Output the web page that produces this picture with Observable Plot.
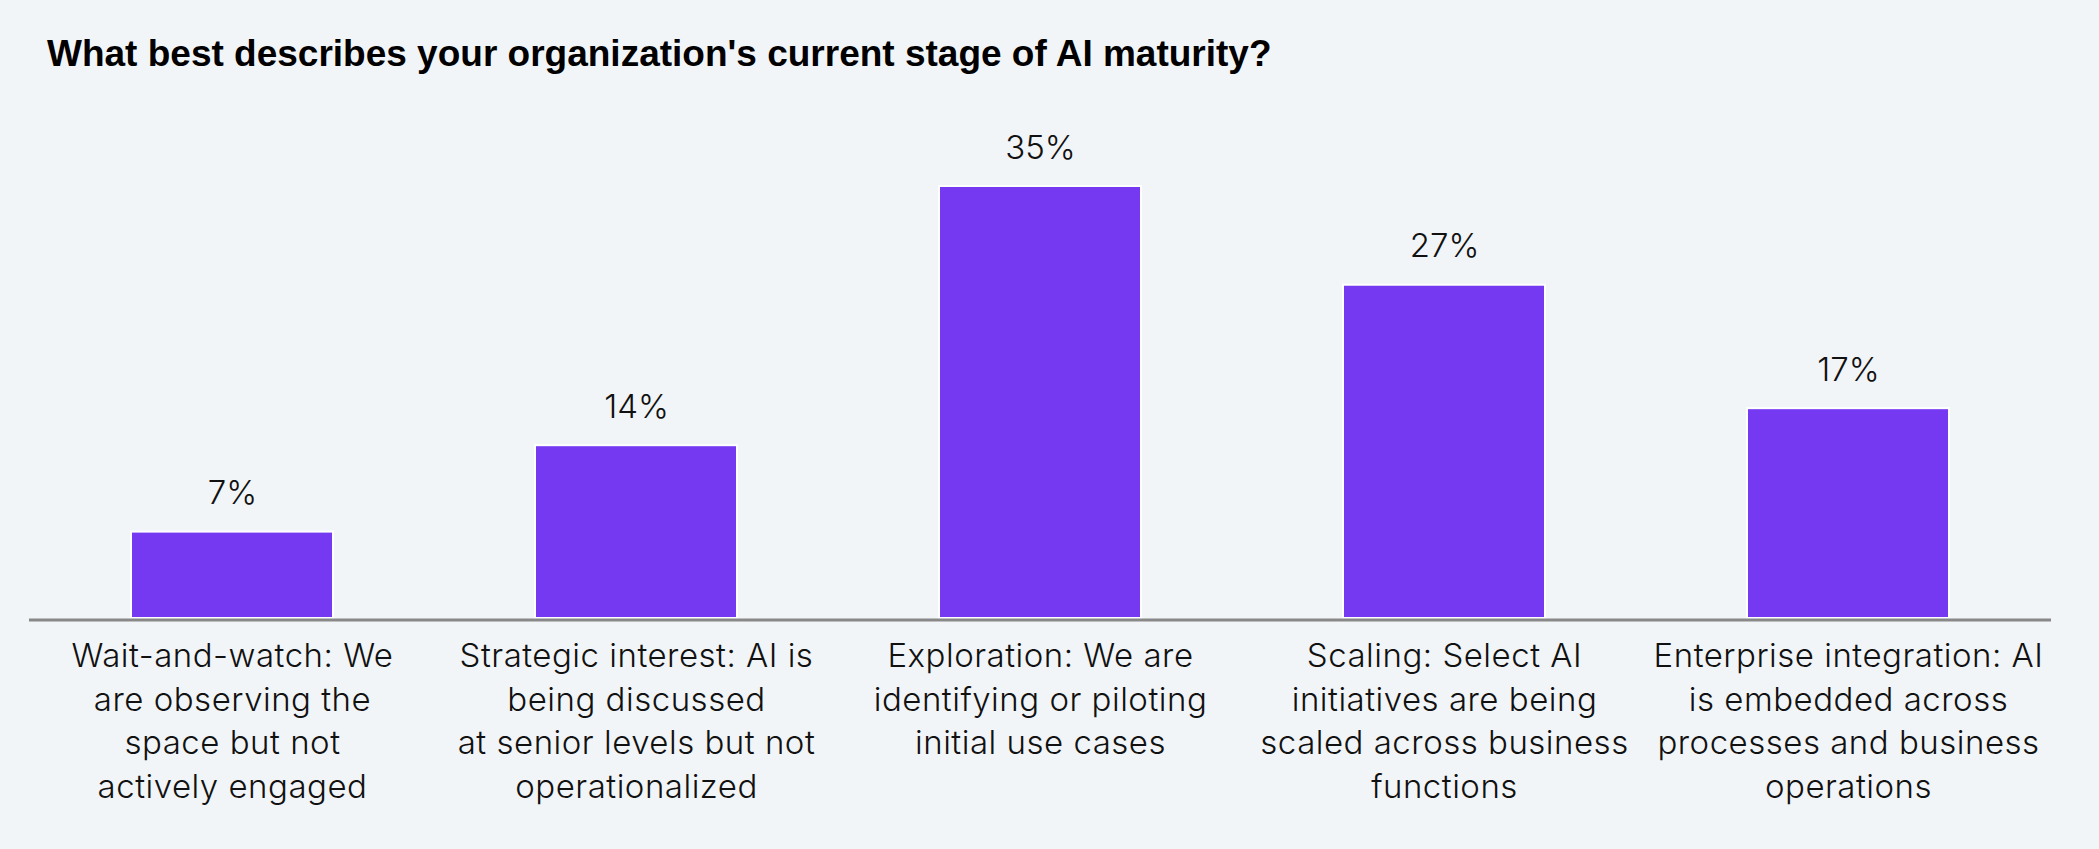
<!DOCTYPE html>
<html>
<head>
<meta charset="utf-8">
<script src="https://cdn.jsdelivr.net/npm/d3@7"></script>
<script src="https://cdn.jsdelivr.net/npm/@observablehq/plot@0.6"></script>
<style>
  html, body { margin: 0; padding: 0; background: #f2f5f8; }
  #wrap { width: 2099px; height: 849px; position: relative; overflow: hidden; background: #f2f5f8; }
  #title { position: absolute; left: 47px; top: 35px; font-family: "Liberation Sans", Arial, sans-serif; font-weight: bold; font-size: 37px; line-height: 37px; color: #000; white-space: nowrap; }
  #chart { position: absolute; left: 0; top: 90px; }
  #chart g[aria-label="x-axis tick label"] text { letter-spacing: 0.5px; }
</style>
</head>
<body>
<div id="wrap">
  <div id="title">What best describes your organization's current stage of AI maturity?</div>
  <div id="chart"></div>
</div>
<script>
const categories = [
  "Wait-and-watch",
  "Strategic interest",
  "Exploration",
  "Scaling",
  "Enterprise integration"
];
const tickLabels = [
  "Wait-and-watch: We\nare observing the\nspace but not\nactively engaged",
  "Strategic interest: AI is\nbeing discussed\nat senior levels but not\noperationalized",
  "Exploration: We are\nidentifying or piloting\ninitial use cases",
  "Scaling: Select AI\ninitiatives are being\nscaled across business\nfunctions",
  "Enterprise integration: AI\nis embedded across\nprocesses and business\noperations"
];
const values = [7, 14, 35, 27, 17];

const data = categories.map((c, i) => ({category: c, value: values[i], label: tickLabels[i]}));
const labelOf = new Map(categories.map((c, i) => [c, tickLabels[i]]));

const chart = Plot.plot({
  width: 2099,
  height: 759,
  marginLeft: 29,
  marginRight: 48,
  marginTop: 96,
  marginBottom: 231,
  style: {background: "transparent", fontFamily: "Inter, 'Noto Sans', sans-serif", color: "#000"},
  x: {domain: categories, paddingInner: 0.5, paddingOuter: 0.25, label: null},
  y: {domain: [0, 35], axis: null},
  marks: [
    Plot.barY(data, {x: "category", y: "value", fill: "#7639f2", stroke: "#ffffff", strokeWidth: 2}),
    Plot.ruleY([0], {stroke: "#888888", strokeWidth: 3, dy: 1.5}),
    Plot.text(data, {x: "category", y: "value", text: d => `${d.value}%`, lineAnchor: "bottom", dy: -28, fontSize: 33, fontWeight: 300, fill: "#111"}),
    Plot.axisX({tickSize: 0, tickPadding: 17, fontSize: 33, fontWeight: 300, lineHeight: 1.33, tickFormat: d => labelOf.get(d), fill: "#111", label: null})
  ]
});
document.getElementById("chart").appendChild(chart);
</script>
</body>
</html>
